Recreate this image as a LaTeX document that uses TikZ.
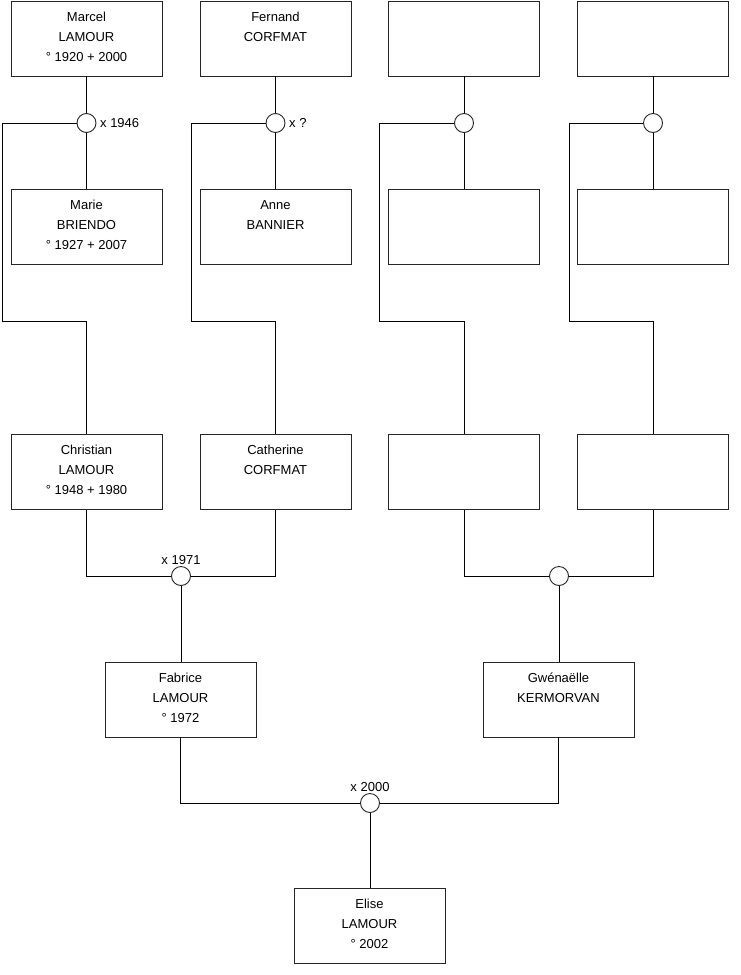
\documentclass[tikz,border=0pt]{standalone}
\usepackage{fontspec}
\setmainfont{Liberation Sans}
\begin{document}
\begin{tikzpicture}[x=1pt,y=-1pt,
  person/.style={draw=black!85,line width=0.9pt,fill=white,minimum width=151pt,minimum height=75pt,inner sep=0pt},
  ptext/.style={font=\fontsize{13}{20}\selectfont,align=center,anchor=base,inner sep=0pt},
  three/.style={yshift=-60.5pt},
  two/.style={yshift=-40.5pt},
  union/.style={circle,draw=black!85,line width=0.9pt,fill=white,minimum size=19pt,inner sep=0pt},
  link/.style={draw=black,line width=0.9pt},
  ulabel/.style={font=\fontsize{13}{15}\selectfont,inner sep=1.5pt}]
\useasboundingbox (0,0) rectangle (740,975);
\fill[white] (0,0) rectangle (740,975);

% coordinates for bends
\coordinate (b1) at (2,123);   \coordinate (b1d) at (2,321);   \coordinate (b1e) at (86.5,321);
\coordinate (b2) at (191,123); \coordinate (b2d) at (191,321); \coordinate (b2e) at (275.5,321);
\coordinate (b3) at (379,123); \coordinate (b3d) at (379,321); \coordinate (b3e) at (464,321);
\coordinate (b4) at (569,123); \coordinate (b4d) at (569,321); \coordinate (b4e) at (653,321);

% row 1
\node[person] (marcel)  at (86.5,38.5) {};
\node[person] (fernand) at (275.5,38.5) {};
\node[person] (p3)      at (464,38.5) {};
\node[person] (p4)      at (653,38.5) {};
% row 2
\node[person] (marie) at (86.5,227) {};
\node[person] (anne)  at (275.5,227) {};
\node[person] (p7)    at (464,227) {};
\node[person] (p8)    at (653,227) {};
% row 3
\node[person] (christian) at (86.5,472) {};
\node[person] (catherine) at (275.5,472) {};
\node[person] (p11)       at (464,472) {};
\node[person] (p12)       at (653,472) {};
% row 4
\node[person] (fabrice) at (180.5,699.5) {};
\node[person] (gwen)    at (558.5,699.5) {};
% row 5
\node[person] (elise) at (369.5,926) {};

% unions
\node[union] (u1) at (86.5,123) {};
\node[union] (u2) at (275.5,123) {};
\node[union] (u3) at (464,123) {};
\node[union] (u4) at (653,123) {};
\node[union] (u5) at (181,576) {};
\node[union] (u6) at (559,576) {};
\node[union] (u7) at (370,803) {};

% connectors
\draw[link] (marcel.south) -- (u1.north);
\draw[link] (u1.south) -- (marie.north);
\draw[link] (u1.west) -- (b1) -- (b1d) -- (b1e) -- (christian.north);
\draw[link] (fernand.south) -- (u2.north);
\draw[link] (u2.south) -- (anne.north);
\draw[link] (u2.west) -- (b2) -- (b2d) -- (b2e) -- (catherine.north);
\draw[link] (p3.south) -- (u3.north);
\draw[link] (u3.south) -- (p7.north);
\draw[link] (u3.west) -- (b3) -- (b3d) -- (b3e) -- (p11.north);
\draw[link] (p4.south) -- (u4.north);
\draw[link] (u4.south) -- (p8.north);
\draw[link] (u4.west) -- (b4) -- (b4d) -- (b4e) -- (p12.north);

\draw[link] (christian.south) |- (u5.west);
\draw[link] (catherine.south) |- (u5.east);
\draw[link] (u5.south) -- (u5.south |- fabrice.north);
\draw[link] (p11.south) |- (u6.west);
\draw[link] (p12.south) |- (u6.east);
\draw[link] (u6.south) -- (u6.south |- gwen.north);
\draw[link] (fabrice.south) |- (u7.west);
\draw[link] (gwen.south) |- (u7.east);
\draw[link] (u7.south) -- (u7.south |- elise.north);

% texts
\node[ptext,three] (t-marcel)    at (marcel.north)    {Marcel\\LAMOUR\\° 1920 + 2000};
\node[ptext,two]   (t-fernand)   at (fernand.north)   {Fernand\\CORFMAT};
\node[ptext,three] (t-marie)     at (marie.north)     {Marie\\BRIENDO\\° 1927 + 2007};
\node[ptext,two]   (t-anne)      at (anne.north)      {Anne\\BANNIER};
\node[ptext,three] (t-christian) at (christian.north) {Christian\\LAMOUR\\° 1948 + 1980};
\node[ptext,two]   (t-catherine) at (catherine.north) {Catherine\\CORFMAT};
\node[ptext,three] (t-fabrice)   at (fabrice.north)   {Fabrice\\LAMOUR\\° 1972};
\node[ptext,two]   (t-gwen)      at (gwen.north)      {Gwénaëlle\\KERMORVAN};
\node[ptext,three] (t-elise)     at (elise.north)     {Elise\\LAMOUR\\° 2002};

% union labels
\node[ulabel,anchor=west,xshift=2pt]  (l1) at (u1.east) {x 1946};
\node[ulabel,anchor=west,xshift=2pt]  (l2) at (u2.east) {x ?};
\node[ulabel,anchor=south] (l5) at (u5.north) {x 1971};
\node[ulabel,anchor=south] (l7) at (u7.north) {x 2000};
\end{tikzpicture}
\end{document}
